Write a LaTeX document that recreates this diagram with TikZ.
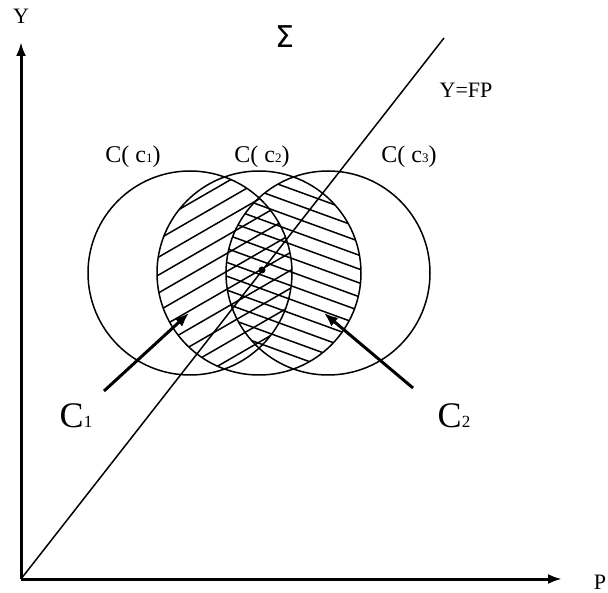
\documentclass[tikz,border=0pt]{standalone}
\usepackage{fontspec}
\setmainfont{Liberation Serif}
\newfontfamily\sigfont{DejaVu Sans}
\usetikzlibrary{arrows.meta}
\tikzset{
  axis/.style={line width=3pt,-{Latex[length=14pt,width=10pt]}},
  thin line/.style={line width=1.5pt},
  pointer/.style={line width=3pt,-{Latex[length=14pt,width=11pt]}},
  hatchline/.style={line width=1.5pt},
  lbl/.style={inner sep=0pt,font=\fontsize{24}{24}\selectfont},
  axlbl/.style={inner sep=0pt,font=\fontsize{22}{22}\selectfont},
  biglbl/.style={inner sep=0pt,font=\fontsize{36}{36}\selectfont},
}
\newcommand{\smalldig}[1]{{\fontsize{13}{13}\selectfont #1}}
\newcommand{\bigdig}[1]{{\fontsize{17}{17}\selectfont #1}}
\begin{document}
\begin{tikzpicture}[x=1pt,y=-1pt]
\useasboundingbox (0,0) rectangle (608,593);
\fill[white] (0,0) rectangle (608,593);
% axes
\coordinate (O) at (21,579);
\coordinate (Ytip) at (21,42);
\coordinate (Xtip) at (562,579);
\coordinate (Lend) at (444,38);
\draw[axis] (O) -- (Ytip);
\draw[axis] (O) -- (Xtip);
\node[axlbl] (ylab) at (21,16) {Y};
\node[axlbl] (plab) at (600,582) {P};
\node[inner sep=0pt,font=\sigfont\fontsize{30}{30}\selectfont] (sig) at (285,37) {Σ};
% hatching left lens (c1 and c2): lines rising to the right
\begin{scope}
  \clip (190,273) circle (102);
  \clip (259,273) circle (102);
  \foreach \i in {-14,...,14} {
    \draw[hatchline] ({224+\i*15.5*sin(30)-200*cos(30)},{273+\i*15.5*cos(30)+200*sin(30)}) -- ({224+\i*15.5*sin(30)+200*cos(30)},{273+\i*15.5*cos(30)-200*sin(30)});
  }
\end{scope}
% hatching right lens (c2 and c3): lines falling to the right
\begin{scope}
  \clip (259,273) circle (102);
  \clip (328,273) circle (102);
  \foreach \i in {-16,...,16} {
    \draw[hatchline] ({294-\i*13*sin(20)-200*cos(20)},{273+\i*13*cos(20)-200*sin(20)}) -- ({294-\i*13*sin(20)+200*cos(20)},{273+\i*13*cos(20)+200*sin(20)});
  }
\end{scope}
% circles
\draw[thin line] (190,273) circle (102);
\draw[thin line] (259,273) circle (102);
\draw[thin line] (328,273) circle (102);
% line Y=FP
\draw[thin line] (O) -- (Lend);
\node[circle,fill=black,inner sep=0pt,minimum size=7pt] (ctr) at (262,270) {};
\node[font=\fontsize{22}{22}\selectfont,inner sep=0pt] (yfp) at (466,90) {Y=FP};
% circle labels
\node[lbl] (l1) at (133,157) {C( c\smalldig{1})};
\node[lbl] (l2) at (262,157) {C( c\smalldig{2})};
\node[lbl] (l3) at (409,157) {C( c\smalldig{3})};
% pointer arrows
\coordinate (a1s) at (104,391);
\coordinate (a1e) at (189,313);
\coordinate (a2s) at (413,388);
\coordinate (a2e) at (324,313);
\draw[pointer] (a1s) -- (a1e);
\draw[pointer] (a2s) -- (a2e);
\node[biglbl] (c1) at (76,416) {C\bigdig{1}};
\node[biglbl] (c2) at (454,416) {C\bigdig{2}};
\end{tikzpicture}
\end{document}
